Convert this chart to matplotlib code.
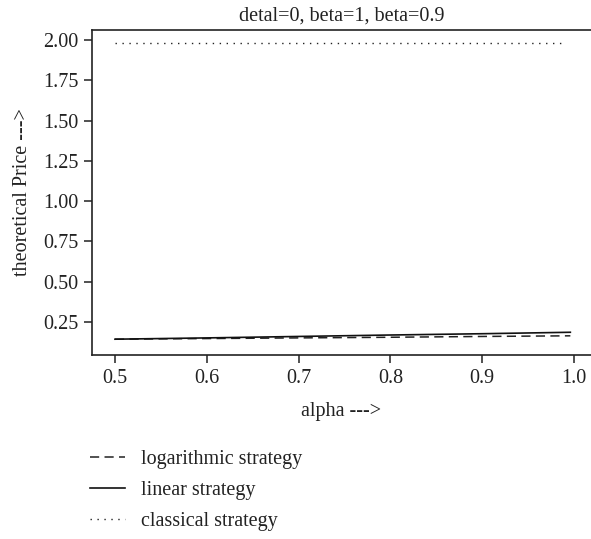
from matplotlib import pyplot as plt

# values
alpha = [0.5, 0.6, 0.7, 0.8, 0.9, 0.996]
logPrice = [0.143, 0.147, 0.151, 0.155, 0.160, 0.164]
linPrice = [0.143, 0.151, 0.160, 0.169, 0.177, 0.186]
classicAlpha = [0.5, 0.99]
classicPrice = [1.98, 1.98]

xTicks = [0.5, 0.6, 0.7, 0.8, 0.9, 1.0]
yTicks = [0.25, 0.50, 0.75, 1.00, 1.25, 1.50, 1.75, 2.00]

plt.rcParams['font.family'] = ['Liberation Serif', 'DejaVu Serif']
plt.rcParams['font.size'] = 14.5

fig = plt.figure(figsize=(5.91, 5.39), dpi=100)
ax = fig.add_axes([0.1557, 0.3414, 0.8443, 0.6029])

l1, = ax.plot(alpha, logPrice, color='#222222', linestyle=(0, (6, 3.5)), linewidth=1.1, label='logarithmic strategy')
l2, = ax.plot(alpha, linPrice, color='#111111', linestyle='-', linewidth=1.2, label='linear strategy')
l3, = ax.plot(classicAlpha, classicPrice, color='#222222', linestyle=(0, (1, 4)), linewidth=1.0, label='classical strategy')

ax.set_xlim(0.475, 1.0185)
ax.set_ylim(0.045, 2.062)
ax.set_xticks(xTicks)
ax.set_xticklabels(['%.1f' % v for v in xTicks])
ax.set_yticks(yTicks)
ax.set_yticklabels(['%.2f' % v for v in yTicks])
ax.spines['right'].set_visible(False)
for s in ['left', 'top', 'bottom']:
    ax.spines[s].set_linewidth(1.2)
    ax.spines[s].set_color('#222222')
ax.tick_params(direction='out', length=6, width=1.1, color='#222222', labelcolor='#222222', pad=4)

ax.set_title('detal=0, beta=1, beta=0.9', fontsize=14.5, color='#222222', pad=7)
ax.set_xlabel('alpha --->', fontsize=14.5, color='#222222', labelpad=10)
ax.set_ylabel('theoretical Price --->', fontsize=14.5, color='#222222', labelpad=8)

fig.legend(handles=[l1, l2, l3], loc='upper left', bbox_to_anchor=(0.152, 0.166), frameon=False,
           borderpad=0, borderaxespad=0,
           handlelength=1.75, handletextpad=0.8, labelspacing=0.6, fontsize=14.5, labelcolor='#222222',
           bbox_transform=fig.transFigure)

fig.savefig('out.png', dpi=100)
